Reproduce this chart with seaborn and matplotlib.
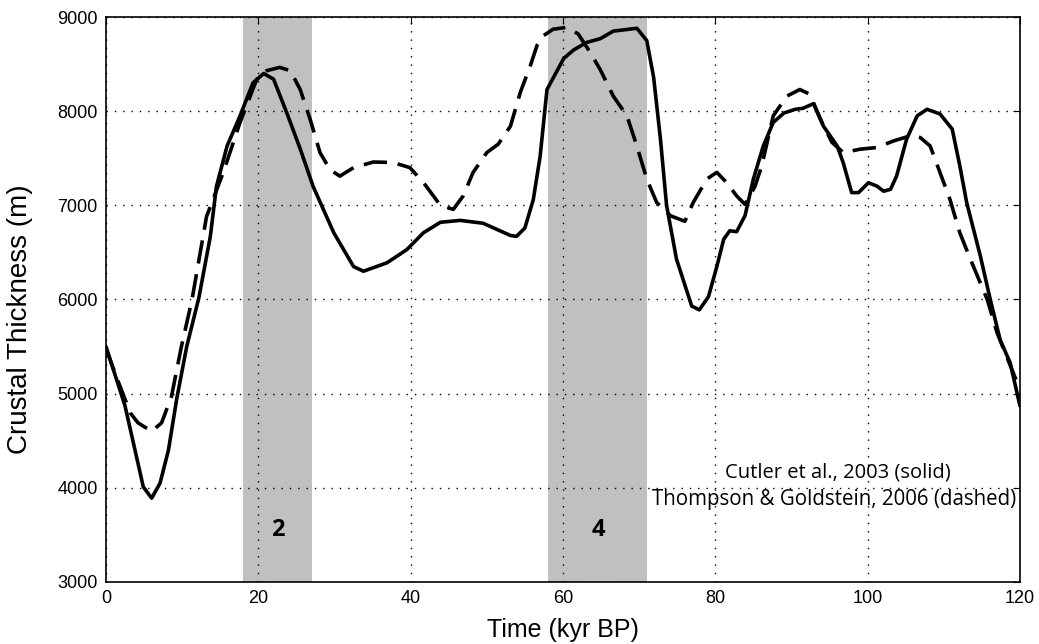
import numpy as np
import pandas as pd
import matplotlib
matplotlib.use("Agg")
import matplotlib.pyplot as plt
import seaborn as sns

# ---- data ----
solid_t = [0, 2.5, 4.9, 6.0, 7.1, 8.2, 9.3, 10.6, 12.2, 13.7, 14.5, 15.9, 17.6, 19.3, 20.7,
           22.0, 23.7, 25.5, 27.2, 29.9, 32.5, 33.8, 36.9, 39.5, 41.7, 43.9, 46.5, 49.5,
           53.1, 53.9, 55.0, 56.1, 57.0, 57.9, 60.1, 61.4, 63.1, 64.9, 66.6, 69.7, 71.0,
           71.9, 72.8, 73.6, 74.9, 76.9, 77.9, 79.1, 80.2, 81.1, 81.9, 82.8, 83.9, 85.0,
           86.3, 87.6, 89.0, 90.5, 91.5, 92.9, 94.2, 96.0, 96.8, 97.9, 98.8, 100.1, 101.2,
           102.1, 103.0, 103.8, 105.1, 106.5, 107.8, 109.5, 111.1, 112.1, 113.0, 114.8,
           116.1, 117.4, 118.7, 120.0]
solid_h = [5500, 4870, 4010, 3890, 4050, 4400, 4950, 5500, 6020, 6670, 7200, 7630, 7950, 8300, 8400,
           8340, 7990, 7600, 7200, 6710, 6350, 6300, 6390, 6530, 6710, 6820, 6840, 6810,
           6680, 6670, 6760, 7060, 7520, 8230, 8560, 8650, 8730, 8770, 8850, 8880, 8750,
           8360, 7700, 7000, 6430, 5930, 5890, 6030, 6350, 6640, 6730, 6720, 6890, 7280,
           7630, 7880, 7980, 8020, 8030, 8080, 7840, 7630, 7450, 7135, 7135, 7240, 7205,
           7150, 7170, 7310, 7700, 7950, 8020, 7970, 7810, 7420, 7030, 6460,
           6000, 5570, 5330, 4870]

dashed_t = [0, 1.5, 3.2, 4.2, 6.0, 7.3, 8.6, 9.9, 11.3, 13.2, 15.4, 17.6, 19.8, 21.1, 22.8,
            24.2, 25.5, 26.8, 28.1, 29.4, 30.7, 32.5, 35.1, 37.7, 39.9, 41.7, 43.9, 45.6,
            46.9, 48.2, 50.0, 51.5, 53.1, 54.4, 55.7, 56.6, 57.4, 58.7, 60.5, 62.0, 63.6,
            64.9, 66.6, 68.4, 69.7, 71.0, 72.3, 74.1, 76.0, 77.1, 78.9, 80.2, 81.5, 82.8,
            83.9, 85.2, 86.1, 87.6, 89.4, 91.1, 92.4, 93.8, 95.3, 96.8, 99.0, 101.2, 103.4,
            105.6, 106.9, 108.2, 109.5, 110.8, 112.1, 113.5, 115.7, 117.0, 120.0]
dashed_h = [5480, 5150, 4795, 4690, 4600, 4690, 4970, 5500, 6000, 6880, 7350, 7880, 8340, 8430, 8465,
            8430, 8230, 7915, 7560, 7380, 7310, 7400, 7460, 7455, 7400, 7240, 7000, 6957,
            7100, 7350, 7560, 7650, 7840, 8200, 8480, 8700, 8800, 8870, 8890, 8820, 8620,
            8440, 8160, 7950, 7630, 7280, 7030, 6890, 6830, 7030, 7280, 7350, 7240, 7100,
            7010, 7200, 7420, 7950, 8160, 8230, 8180, 7915, 7670, 7560, 7596, 7614, 7684,
            7738, 7720, 7631, 7348, 7064, 6709, 6426, 6000, 5645, 5043]

bands = [(18, 27), (58, 71)]
band_labels = ["2", "4"]
band_label_x = [22.6, 64.6]

x_ticks = [0, 20, 40, 60, 80, 100, 120]
y_ticks = [3000, 4000, 5000, 6000, 7000, 8000, 9000]

note_solid = "Cutler et al., 2003 (solid)"
note_dashed = "Thompson & Goldstein, 2006 (dashed)"

# ---- plot ----
sns.set_style("white")
plt.rcParams['font.family'] = ['Liberation Sans', 'DejaVu Sans']
plt.rcParams['text.color'] = 'black'
plt.rcParams['axes.labelcolor'] = 'black'
plt.rcParams['xtick.color'] = 'black'
plt.rcParams['ytick.color'] = 'black'

fig = plt.figure(figsize=(10.39, 6.44), dpi=100)
ax = fig.add_axes([0.102, 0.0963, 0.8797, 0.8773])

for (a, b) in bands:
    ax.axvspan(a, b, color='#c0c0c0', lw=0, zorder=0)

df_s = pd.DataFrame({"t": solid_t, "h": solid_h})
df_d = pd.DataFrame({"t": dashed_t, "h": dashed_h})
sns.lineplot(data=df_s, x="t", y="h", ax=ax, color='black', lw=2.6, estimator=None, zorder=3)
sns.lineplot(data=df_d, x="t", y="h", ax=ax, color='black', lw=2.6, estimator=None,
             linestyle=(0, (6.5, 3)), zorder=3)

ax.set_xlim(0, 120)
ax.set_ylim(3000, 9000)
ax.set_xticks(x_ticks)
ax.set_yticks(y_ticks)
ax.set_xticklabels([str(v) for v in x_ticks])
ax.set_yticklabels([str(v) for v in y_ticks])
ax.grid(True, color='black', linestyle=(0, (1, 5)), linewidth=1.0, zorder=1)
ax.set_axisbelow(False)
for l in ax.get_xgridlines() + ax.get_ygridlines():
    l.set_zorder(1)

for sp in ax.spines.values():
    sp.set_color('black')
    sp.set_linewidth(1.2)
    sp.set_visible(True)

ax.tick_params(direction='in', length=5, width=0.8, top=True, right=True,
               labelsize=13, colors='black', pad=6)
ax.set_xlabel("Time (kyr BP)", fontsize=18, labelpad=8)
ax.set_ylabel("Crustal Thickness (m)", fontsize=20)
ax.yaxis.set_label_coords(-0.080, 0.465)

for lab, xx in zip(band_labels, band_label_x):
    ax.text(xx, 3553, lab, fontsize=17, fontweight='bold', ha='center', va='center',
            color='black', family=['Open Sans', 'DejaVu Sans'])

ax.text(96.1, 4160, note_solid, fontsize=14.5, ha='center', va='center',
        color='black', family=['Open Sans', 'DejaVu Sans'])
ax.text(95.6, 3872, note_dashed, fontsize=14.8, ha='center', va='center',
        color='black', family=['Open Sans', 'DejaVu Sans'])

fig.savefig("out.png", dpi=100)
